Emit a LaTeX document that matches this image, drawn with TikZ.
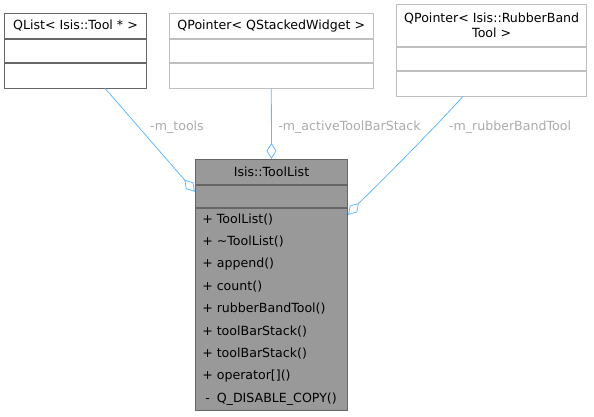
\documentclass[tikz,border=0pt]{standalone}
\usepackage{fontspec}
\setmainfont{DejaVu Sans}
\usetikzlibrary{arrows.meta, positioning}
\definecolor{edgeblue}{HTML}{63B8FF}
\definecolor{labelgray}{HTML}{ABABAB}
\definecolor{boxgray}{HTML}{666666}
\definecolor{extgray}{HTML}{BFBFBF}
\definecolor{mainfill}{HTML}{999999}
\tikzset{
  row/.style={
    rectangle,
    draw=boxgray,
    fill=white,
    line width=0.8pt,
    inner sep=0pt,
    align=center,
    font=\fontsize{12.6}{15}\selectfont
  },
  extrow/.style={
    row,
    draw=extgray
  },
  mainrow/.style={
    row,
    fill=mainfill
  },
  members/.style={
    mainrow,
    align=left,
    inner xsep=3pt,
    text width=146.4pt,
    font=\fontsize{12.6}{22.4}\selectfont
  },
  usage/.style={
    draw=edgeblue,
    line width=0.8pt,
    -{Diamond[open, length=16pt, width=10pt]}
  },
  elabel/.style={
    text=labelgray,
    inner sep=0pt,
    font=\fontsize{12.6}{15}\selectfont
  }
}
\newcommand{\umlop}[2]{\makebox[18.5pt][c]{#1}#2}

\begin{document}
\begin{tikzpicture}[x=1pt, y=-1pt, node distance=0pt]
    \useasboundingbox (0,0) rectangle (594,416);

    % member classes
    \node[row, minimum width=141.3pt, minimum height=25pt] (qlist) at (75.5,25.8) {QList< Isis::Tool * >};
    \node[row, minimum width=141.3pt, minimum height=23pt, below=of qlist] (qlistattr) {};
    \node[row, minimum width=141.3pt, minimum height=25pt, below=of qlistattr] (qlistops) {};

    \node[extrow, minimum width=204pt, minimum height=25pt] (qstack) at (271.3,25.8) {QPointer< QStackedWidget >};
    \node[extrow, minimum width=204pt, minimum height=23pt, below=of qstack] (qstackattr) {};
    \node[extrow, minimum width=204pt, minimum height=25pt, below=of qstackattr] (qstackops) {};

    \node[extrow, minimum width=190pt, minimum height=42pt] (rubber) at (491.7,25.7) {QPointer< Isis::RubberBand\\Tool >};
    \node[extrow, minimum width=190pt, minimum height=22.6pt, below=of rubber] (rubberattr) {};
    \node[extrow, minimum width=190pt, minimum height=25pt, below=of rubberattr] (rubberops) {};

    % the class itself
    \node[mainrow, minimum width=152.4pt, minimum height=25pt] (toollist) at (271.5,171.8) {Isis::ToolList};
    \node[mainrow, minimum width=152.4pt, minimum height=22.4pt, below=of toollist] (toollistattr) {};
    \node[members, minimum height=202.3pt, below=of toollistattr] (toollistops) {%
        \umlop{+}{ToolList()}\\
        \umlop{+}{\textasciitilde ToolList()}\\
        \umlop{+}{append()}\\
        \umlop{+}{count()}\\
        \umlop{+}{rubberBandTool()}\\
        \umlop{+}{toolBarStack()}\\
        \umlop{+}{toolBarStack()}\\
        \umlop{+}{operator[]()}\\
        \umlop{-}{Q\_DISABLE\_COPY()}};

    \draw[usage] ([xshift=29.5pt]qlistops.south) -- ([yshift=4.5pt]toollistattr.west);
    \draw[usage] (qstackops.south) -- (toollist.north);
    \draw[usage] ([xshift=-28.7pt]rubberops.south) .. controls (440,122) and (385,178) .. ([yshift=-7pt]toollistops.north east);

    \node[elabel] (ltools) at (177,127) {-m\_tools};
    \node[elabel] (lstack) at (349.5,127) {-m\_activeToolBarStack};
    \node[elabel] (lrubber) at (510,127) {-m\_rubberBandTool};
\end{tikzpicture}
\end{document}
